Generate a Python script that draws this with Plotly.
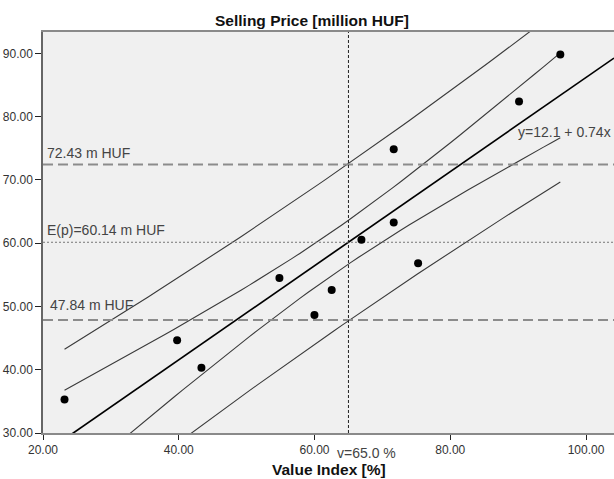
import numpy as np
import plotly.graph_objects as go

# ---- data ----
value_index = [23.17, 39.76, 43.34, 54.83, 59.99, 62.53, 66.91, 71.67, 71.67, 75.26, 90.13, 96.21]
selling_price = [35.28, 44.64, 40.33, 54.48, 48.64, 52.58, 60.52, 74.83, 63.25, 56.84, 82.40, 89.81]

x_ticks = [20, 40, 60, 80, 100]
x_tick_labels = ["20.00", "40.00", "60.00", "80.00", "100.00"]
y_ticks = [30, 40, 50, 60, 70, 80, 90]
y_tick_labels = ["30.00", "40.00", "50.00", "60.00", "70.00", "80.00", "90.00"]

v_ref = 65.0
p_expected = 60.14
p_upper = 72.43
p_lower = 47.84
t_crit = 1.812  # 90% two-sided, df = n-2
fit_label = "y=12.1 + 0.74x"
fit_label_pos = (103.93, 77.6)

X_RANGE = [20, 104.12]
Y_RANGE = [30, 93.37]

# ---- regression fit and bands ----
xa = np.array(value_index)
ya = np.array(selling_price)
n = len(xa)
slope, intercept = np.polyfit(xa, ya, 1)
resid = ya - (intercept + slope * xa)
s = np.sqrt(np.sum(resid ** 2) / (n - 2))
xbar = xa.mean()
sxx = np.sum((xa - xbar) ** 2)

xg = np.linspace(xa.min(), xa.max(), 60)
yg = intercept + slope * xg
se_mean = s * np.sqrt(1 / n + (xg - xbar) ** 2 / sxx)
se_pred = s * np.sqrt(1 + 1 / n + (xg - xbar) ** 2 / sxx)

xl = np.array(X_RANGE)
yl = intercept + slope * xl

fig = go.Figure()
band_style = dict(color="#3a3a3a", width=1.1)
for ys in (yg + t_crit * se_pred, yg - t_crit * se_pred, yg + t_crit * se_mean, yg - t_crit * se_mean):
    fig.add_trace(go.Scatter(x=xg, y=ys, mode="lines", line=band_style, hoverinfo="skip"))

fig.add_trace(go.Scatter(x=xl, y=yl, mode="lines", line=dict(color="#000000", width=1.7), hoverinfo="skip"))

# reference lines
fig.add_trace(go.Scatter(x=X_RANGE, y=[p_upper, p_upper], mode="lines",
                         line=dict(color="#8c8c8c", width=2, dash="10px,5px"), hoverinfo="skip"))
fig.add_trace(go.Scatter(x=X_RANGE, y=[p_lower, p_lower], mode="lines",
                         line=dict(color="#8c8c8c", width=2, dash="10px,5px"), hoverinfo="skip"))
fig.add_trace(go.Scatter(x=X_RANGE, y=[p_expected, p_expected], mode="lines",
                         line=dict(color="#777777", width=1, dash="2px,2px"), hoverinfo="skip"))
fig.add_trace(go.Scatter(x=[v_ref, v_ref], y=Y_RANGE, mode="lines",
                         line=dict(color="#222222", width=1, dash="3px,2px"), hoverinfo="skip"))

fig.add_trace(go.Scatter(x=value_index, y=selling_price, mode="markers",
                         marker=dict(color="#000000", size=8), hoverinfo="skip"))

FONT = "Liberation Sans, Arial, sans-serif"
txt = dict(family=FONT, size=14, color="#444444")
fig.add_annotation(x=0, xref="paper", y=p_upper, yref="y", text=f"{p_upper:.2f} m HUF",
                   showarrow=False, xanchor="left", yanchor="middle", font=txt, xshift=2, yshift=12)
fig.add_annotation(x=0, xref="paper", y=p_expected, yref="y", text=f"E(p)={p_expected:.2f} m HUF",
                   showarrow=False, xanchor="left", yanchor="middle", font=txt, xshift=2, yshift=12.4)
fig.add_annotation(x=0, xref="paper", y=p_lower, yref="y", text=f"{p_lower:.2f} m HUF",
                   showarrow=False, xanchor="left", yanchor="middle", font=txt, xshift=5, yshift=15)
fig.add_annotation(x=fit_label_pos[0], xref="x", y=fit_label_pos[1], yref="y", text=fit_label,
                   showarrow=False, xanchor="right", yanchor="middle", font=txt)
fig.add_annotation(x=v_ref, xref="x", y=0, yref="paper", text=f"v={v_ref:.1f} %",
                   showarrow=False, xanchor="left", yanchor="middle", font=txt, xshift=-13.5, yshift=-19.5)
fig.add_annotation(x=0.501, xref="paper", y=0, yref="paper", text="<b>Value Index [%]</b>",
                   showarrow=False, xanchor="center", yanchor="middle", yshift=-36.5,
                   font=dict(family=FONT, size=15.5, color="#111111"))

tickfont = dict(family=FONT, size=12, color="#333333")
fig.update_layout(
    width=614, height=479,
    margin=dict(l=42.5, r=0, t=31.7, b=45.5),
    paper_bgcolor="#ffffff", plot_bgcolor="#f0f0f0",
    showlegend=False,
    title=dict(text="<b>Selling Price [million HUF]</b>", x=0.508, xanchor="center", y=0.9568, yanchor="middle",
               font=dict(family=FONT, size=15.5, color="#111111")),
    xaxis=dict(range=X_RANGE, tickvals=x_ticks, ticktext=x_tick_labels, showgrid=False, zeroline=False,
               showline=True, linecolor="#8a8a8a", linewidth=2, mirror=True,
               ticks="outside", ticklen=5, tickcolor="#222222", tickwidth=1, tickfont=tickfont),
    yaxis=dict(range=Y_RANGE, tickvals=y_ticks, ticktext=y_tick_labels, showgrid=False, zeroline=False,
               showline=True, linecolor="#666666", linewidth=1.5,
               ticks="outside", ticklen=6, tickcolor="#222222", tickwidth=1, tickfont=tickfont),
)

fig.write_html("out.html", config={"displayModeBar": False},
               post_script="document.body.style.margin='0';document.body.style.overflow='hidden';")
